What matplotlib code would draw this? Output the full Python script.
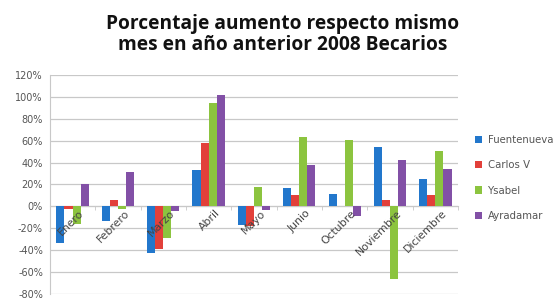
import matplotlib
matplotlib.use('Agg')
import matplotlib.pyplot as plt
import numpy as np
from matplotlib.ticker import FuncFormatter

# ── Data ──
months = ['Enero', 'Febrero', 'Marzo', 'Abril', 'Mayo', 'Junio',
          'Octubre', 'Noviembre', 'Diciembre']
series = ['Fuentenueva', 'Carlos V', 'Ysabel', 'Ayradamar']
fuentenueva = [-33, -13, -43, 33, -17, 17, 11, 54, 25]
carlos_v = [-2, 6, -39, 58, -18, 10, 0.5, 6, 10]
ysabel = [-16, -2, -29, 94, 18, 63, 61, -66, 51]
ayradamar = [20, 31, -4, 102, -3, 38, -9, 42, 34]

COLORS = ['#2277cc', '#e2403a', '#8cc43f', '#8250a6']
GRID = '#c8c8c8'
TXT = '#555555'

fig = plt.figure(figsize=(5.6, 3.0), dpi=100, facecolor='white')
ax = fig.add_axes([0.089, 0.02, 0.729, 0.73])

x = np.arange(len(months))
w = 0.178
for i, (vals, name) in enumerate(zip([fuentenueva, carlos_v, ysabel, ayradamar], series)):
    ax.bar(x + (i - 1.5) * w, vals, w, color=COLORS[i], label=name, zorder=3)

ax.set_ylim(-80, 120)
ax.set_xlim(-0.5, len(months) - 0.5)
ax.set_yticks(np.arange(-80, 121, 20))
ax.yaxis.set_major_formatter(FuncFormatter(lambda v, p: f'{int(v)}%'))
ax.tick_params(axis='y', length=0, labelsize=7, labelcolor=TXT, pad=5)
ax.grid(axis='y', color=GRID, lw=0.9, zorder=0)

# category axis crossing at 0
ax.spines['bottom'].set_position(('data', 0))
ax.spines['bottom'].set_color(GRID)
ax.spines['left'].set_color(GRID)
for s in ['top', 'right']:
    ax.spines[s].set_visible(False)
ax.set_xticks(x)
ax.set_xticklabels([])
ax.set_xticks(np.arange(-0.5, len(months), 1), minor=True)
ax.tick_params(axis='x', which='major', length=0)
ax.tick_params(axis='x', which='minor', length=3, color=GRID, direction='out')
for xi, m in zip(x, months):
    ax.text(xi + 0.14, -1.5, m, rotation=45, ha='right', va='top',
            fontsize=7.8, color='#444444', rotation_mode='anchor', zorder=4)

leg = ax.legend(loc='center left', bbox_to_anchor=(1.02, 0.53), frameon=False,
                fontsize=7.3, handlelength=0.7, handleheight=0.7,
                labelspacing=1.5, handletextpad=0.5)
for t in leg.get_texts():
    t.set_color(TXT)

fig.text(0.505, 0.955, 'Porcentaje aumento respecto mismo\nmes en año anterior 2008 Becarios',
         ha='center', va='top', fontsize=13.8, fontweight='bold', color='#111111',
         family='Open Sans', linespacing=1.1)

fig.savefig('out.png', dpi=100, facecolor='white')
